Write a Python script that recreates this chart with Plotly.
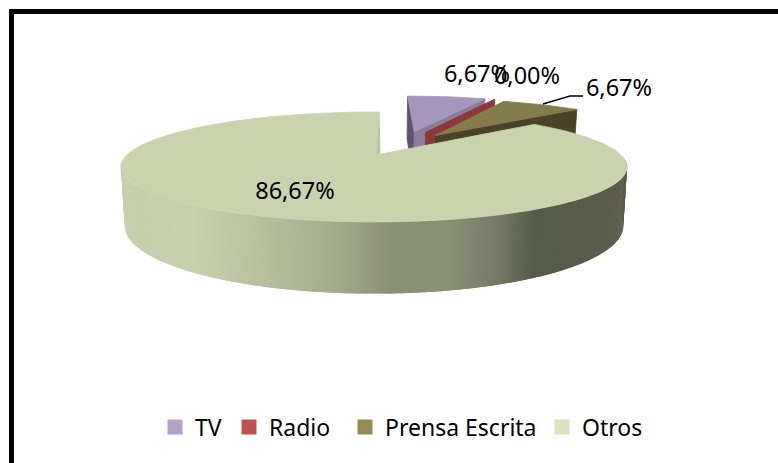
from plotly import graph_objects as go
import numpy as np

categories = ["TV", "Radio", "Prensa Escrita", "Otros"]
values = [6.67, 0.00, 6.67, 86.67]

legend_colors = ["#b2a2c7", "#c0504d", "#948a54", "#d7e4bc"]
top_colors = ["#a696bb", "#8c3a38", "#857c4c", "#c9d3ae"]
wall_colors = ["#8a7d9c", "#8c3a38", "#4a432a", "#8b9078"]
# how far each slice is pulled out of the pie (unit circle coordinates)
explode = [(0.18, 0.49), (0.23, 0.47), (0.27, 0.405), (0.0, 0.0)]
label_pos = [(477, 76), (527, 78), (619, 90), (295, 193)]
legend_left = [155, 229, 345, 542]

# gradient of the big slice rim, by screen x
rim_x = [125, 190, 267, 330, 393, 450, 500, 535, 627]
rim_rgb = [(197, 207, 171), (200, 210, 174), (182, 190, 158), (166, 174, 144),
           (139, 144, 120), (138, 143, 119), (118, 122, 102), (86, 92, 72), (92, 94, 72)]

W, H = 778, 463
CX, CY = 374, 155
A, B, K, DEPTH = 247, 52.4, 0.218, 56


def project(theta, r=1.0, z=0, off=(0, 0)):
    # theta in degrees, clockwise from 12 o'clock; z=1 is the bottom face
    t = np.radians(theta)
    X = r*np.sin(t) + off[0]
    Y = r*np.cos(t) + off[1]
    w = 1 + K*Y
    return CX + (1 - 0.015*z)*A*X/w, CY - B*Y/w + z*DEPTH/w


def poly(pts, color, lw=0.8):
    xs, ys = zip(*pts)
    return go.Scatter(x=list(xs) + [xs[0]], y=list(ys) + [ys[0]], mode="lines", fill="toself",
                      fillcolor=color, line=dict(color=color, width=lw),
                      hoverinfo="skip", showlegend=False)


def wall(theta, off, color):
    return poly([project(0, 0, 0, off), project(theta, 1, 0, off),
                 project(theta, 1, 1, off), project(0, 0, 1, off)], color)


def arc(start, end, off):
    n = max(int(end - start) + 1, 2)
    return [project(t, 1, 0, off) for t in np.linspace(start, end, n)]


fig = go.Figure()

# angles come straight from the values
total = sum(values)
edges = [0]
for v in values:
    edges.append(edges[-1] + 360*v/total)

# exploded back slices, painted back to front
fig.add_trace(wall(edges[0], explode[0], "#5e5470"))
fig.add_trace(wall(edges[1], explode[0], wall_colors[0]))
fig.add_trace(poly([project(0, 0, 0, explode[0])] + arc(edges[0], edges[1], explode[0]), top_colors[0]))

fig.add_trace(wall(edges[2], explode[1], wall_colors[1]))
fig.add_trace(poly([project(0, 0, 0, explode[1])] + arc(edges[1], edges[2], explode[1]), top_colors[1]))

fig.add_trace(wall(edges[3], explode[2], wall_colors[2]))
fig.add_trace(poly([project(0, 0, 0, explode[2])] + arc(edges[2], edges[3], explode[2]), top_colors[2]))

# rim of Otros, overlapping strips for the gradient (no seams)
thetas = np.arange(95, 265, 0.5)
for t in thetas:
    pts = [project(t), project(t + 1.0), project(t + 1.0, z=1), project(t, z=1)]
    sx = project(t + 0.25)[0]
    rgb = [int(np.interp(sx, rim_x, [c[i] for c in rim_rgb])) for i in range(3)]
    fig.add_trace(poly(pts, f"rgb({rgb[0]},{rgb[1]},{rgb[2]})", lw=0))

# little inner wall at 12 o'clock, the top face runs slightly past the centre line
rx, ry = project(edges[4])
ax, ay = project(0, 0)
fig.add_trace(poly([(ax + 2, ay), (rx + 5, ry), (rx + 6, ry + 41), (rx + 2, ry + 43)], "#b9c1a0"))
fig.add_trace(poly([(ax + 2, ay)] + arc(edges[3], edges[4], (0, 0)) + [(rx + 5, ry)], top_colors[3]))

# leader line for Prensa Escrita
fig.add_trace(go.Scatter(x=[543, 570, 583], y=[104, 96, 96], mode="lines",
                         line=dict(color="black", width=1.5), hoverinfo="skip", showlegend=False))

labels = [f"{v:.2f}%".replace(".", ",") for v in values]
fig.add_trace(go.Scatter(x=[p[0] for p in label_pos], y=[p[1] for p in label_pos],
                         mode="text", text=labels, textposition="middle center",
                         textfont=dict(family="Noto Sans", size=23.5, color="black"),
                         hoverinfo="skip", showlegend=False))

# one legend per entry, the gaps between entries are uneven in the original
legends = {}
for i, (name, color) in enumerate(zip(categories, legend_colors)):
    key = "legend" if i == 0 else f"legend{i + 1}"
    fig.add_trace(go.Scatter(x=[None], y=[None], mode="markers", name=name, legend=key,
                             marker=dict(symbol="square", size=15, color=color)))
    legends[key] = dict(orientation="h", x=legend_left[i]/W, y=1 - 427/H, xanchor="left", yanchor="middle",
                        font=dict(family="Noto Sans", size=23, color="black"),
                        bgcolor="rgba(0,0,0,0)", itemclick=False)

fig.update_layout(
    width=W, height=H, margin=dict(l=0, r=0, t=0, b=0),
    paper_bgcolor="white", plot_bgcolor="white",
    xaxis=dict(range=[0, W], visible=False, fixedrange=True),
    yaxis=dict(range=[H, 0], visible=False, fixedrange=True),
    shapes=[
        dict(type="line", xref="paper", yref="paper", x0=11.5/W, x1=1, y0=1 - 11.5/H, y1=1 - 11.5/H,
             line=dict(color="black", width=5)),
        dict(type="line", xref="paper", yref="paper", x0=11.5/W, x1=11.5/W, y0=0, y1=1 - 9/H,
             line=dict(color="black", width=5)),
    ],
    **legends,
)

fig.write_html("out.html", post_script="document.body.style.margin='0';document.body.style.overflow='hidden';",
               config=dict(displayModeBar=False))
